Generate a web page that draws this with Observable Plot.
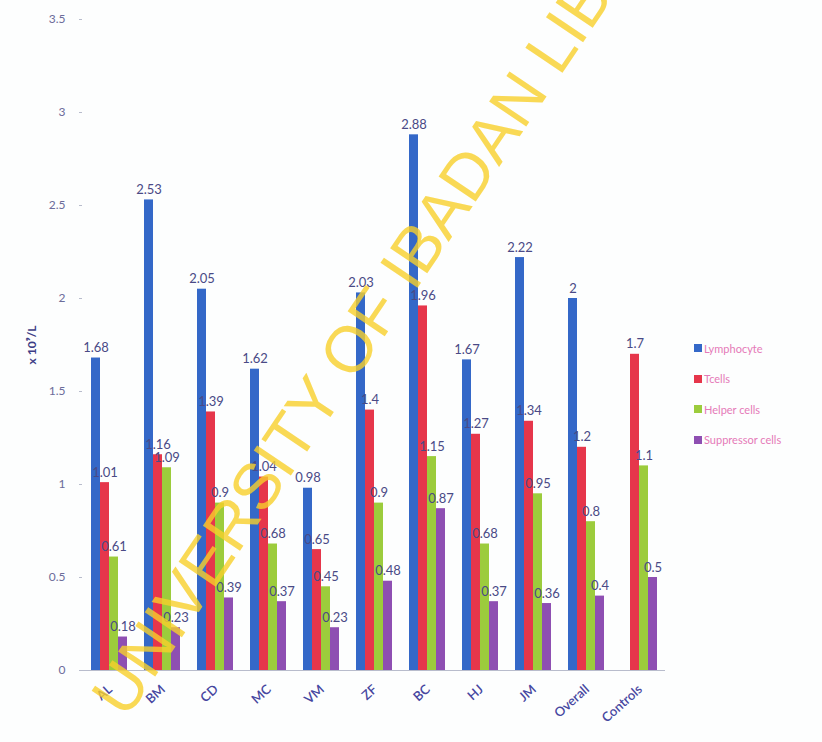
<!DOCTYPE html>
<html>
<head>
<meta charset="utf-8">
<script src="https://cdn.jsdelivr.net/npm/d3@7"></script>
<script src="https://cdn.jsdelivr.net/npm/@observablehq/plot@0.6"></script>
<style>
  body { margin: 0; background: #fff; font-family: Lato, "Open Sans", sans-serif; }
  #wrap { position: relative; width: 822px; height: 742px; overflow: hidden; background: #fdfefe; }
  #legend { position: absolute; left: 694px; top: 333px; font-family: Lato, sans-serif; font-size: 11px; color: #e57ab8; }
  #legend .item { display: flex; align-items: center; height: 30.5px; white-space: nowrap; }
  #legend .sw { width: 8px; height: 8px; margin-right: 2px; }
  #wm { position: absolute; left: 0; top: 0; pointer-events: none; }
  g[aria-label="y-axis label"] text { font-weight: bold; }
</style>
</head>
<body>
<div id="wrap"></div>
<script>
const categories = ["AL", "BM", "CD", "MC", "VM", "ZF", "BC", "HJ", "JM", "Overall", "Controls"];
const series = ["Lymphocyte", "Tcells", "Helper cells", "Suppressor cells"];
const lymphocyte = [1.68, 2.53, 2.05, 1.62, 0.98, 2.03, 2.88, 1.67, 2.22, 2, null];
const tcells = [1.01, 1.16, 1.39, 1.04, 0.65, 1.4, 1.96, 1.27, 1.34, 1.2, 1.7];
const helperCells = [0.61, 1.09, 0.9, 0.68, 0.45, 0.9, 1.15, 0.68, 0.95, 0.8, 1.1];
const suppressorCells = [0.18, 0.23, 0.39, 0.37, 0.23, 0.48, 0.87, 0.37, 0.36, 0.4, 0.5];
const yTicks = [0, 0.5, 1, 1.5, 2, 2.5, 3, 3.5];
const colors = ["#3468c8", "#e6364b", "#9ccc3c", "#8e4fb2"];
const yLabel = "x 10⁹/L";
const watermark = "UNIVERSITY OF IBADAN LIBRARY";

const seriesValues = [lymphocyte, tcells, helperCells, suppressorCells];
const rows = [];
categories.forEach((c, i) => {
  series.forEach((s, j) => {
    const v = seriesValues[j][i];
    if (v != null) rows.push({category: c, series: s, value: v});
  });
});

const chart = Plot.plot({
  width: 822,
  height: 742,
  marginLeft: 77,
  marginRight: 152,
  marginTop: 19,
  marginBottom: 72,
  style: {background: "transparent", fontFamily: "Lato, sans-serif", fontSize: "12px"},
  fx: {domain: categories, padding: 0, label: null, axis: null},
  x: {domain: series, axis: null, paddingInner: 0, paddingOuter: 0.7},
  y: {domain: [0, 3.5]},
  color: {domain: series, range: colors},
  marks: [
    Plot.ruleY([0], {stroke: "#b8bccc", strokeWidth: 1}),
    Plot.barY(rows, {fx: "category", x: "series", y: "value", fill: "series", inset: 0}),
    Plot.text(rows, {fx: "category", x: "series", y: "value", text: d => String(d.value), dy: -10, fill: "#4a4a86", fontSize: 13}),
    Plot.text(categories, {fx: d => d, text: d => d, frameAnchor: "bottom", dx: 4, dy: 20, rotate: -42, textAnchor: "end", fill: "#4646a0", fontSize: 13, fontWeight: 600}),
    Plot.axisY({ticks: yTicks, tickFormat: d => String(d), tickSize: 3, tickPadding: 14, stroke: "#b8bccc", fill: "#6c6c9a", fontSize: 12, label: yLabel, labelAnchor: "center", labelOffset: 55, line: true})
  ]
});
chart.querySelectorAll('g[aria-label="y-axis label"] text').forEach(t => {
  t.textContent = yLabel;
  t.setAttribute("fill", "#3d3d86");
  t.setAttribute("font-size", "12");
});
document.getElementById("wrap").appendChild(chart);

// legend
const legend = document.createElement("div");
legend.id = "legend";
series.forEach((s, i) => {
  const item = document.createElement("div");
  item.className = "item";
  const sw = document.createElement("span");
  sw.className = "sw";
  sw.style.background = colors[i];
  const lab = document.createElement("span");
  lab.textContent = s;
  item.appendChild(sw);
  item.appendChild(lab);
  legend.appendChild(item);
});
document.getElementById("wrap").appendChild(legend);

// watermark overlay
const ns = "http://www.w3.org/2000/svg";
const wm = document.createElementNS(ns, "svg");
wm.setAttribute("id", "wm");
wm.setAttribute("width", 822);
wm.setAttribute("height", 742);
const t = document.createElementNS(ns, "text");
t.setAttribute("transform", "translate(126,720) rotate(-56)");
t.setAttribute("font-family", "Liberation Sans, Arial, sans-serif");
t.setAttribute("font-size", 65);
t.setAttribute("fill", "#f7cf2a");
t.setAttribute("fill-opacity", 0.8);
t.textContent = watermark;
wm.appendChild(t);
document.getElementById("wrap").appendChild(wm);
</script>
</body>
</html>
